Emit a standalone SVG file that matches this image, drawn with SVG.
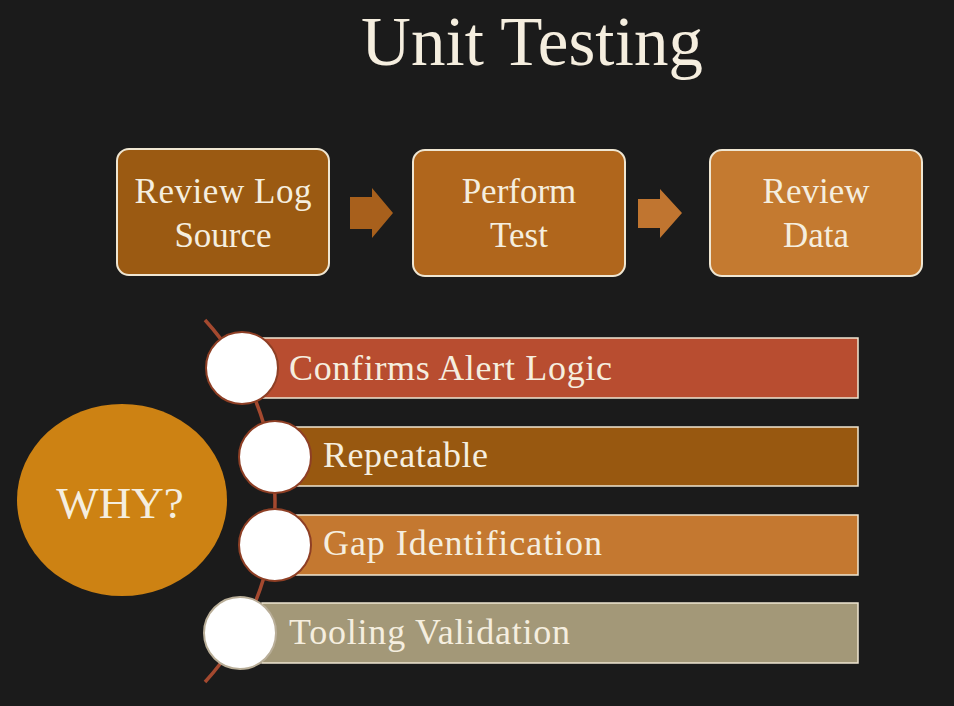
<svg xmlns="http://www.w3.org/2000/svg" width="954" height="706" viewBox="0 0 954 706">
<style>
  .t{font-family:"Liberation Serif","Times New Roman",serif;fill:#f5eedf}
  .box{stroke:#efe6d2;stroke-width:2}
  .bar{stroke:#efe6d2;stroke-width:1.5}
  .dot{fill:#ffffff;stroke:#8e3f25;stroke-width:2}
</style>
<rect x="0" y="0" width="954" height="706" fill="#1b1b1b"/>
<text class="t" x="532" y="65" font-size="69" text-anchor="middle" textLength="342" lengthAdjust="spacing">Unit Testing</text>

<g id="connectors">
  <path d="M350,197 H372 V188 L393,213 L372,238 V229 H350 Z" fill="#a8601c"/>
  <path d="M638,199 H660 V189 L682,213 L660,238 V228 H638 Z" fill="#c07530"/>
  <path d="M205,320 A269,269 0 0 1 205,682" fill="none" stroke="#a4492f" stroke-width="3.5"/>
</g>

<g id="box-review-log">
  <rect class="box" x="117" y="149" width="212" height="126" rx="12" fill="#9b5a12"/>
  <text class="t" x="223" y="203" font-size="35" text-anchor="middle" textLength="177" lengthAdjust="spacing">Review Log</text>
  <text class="t" x="223" y="247" font-size="35" text-anchor="middle">Source</text>
</g>
<g id="box-perform-test">
  <rect class="box" x="413" y="150" width="212" height="126" rx="12" fill="#b0661c"/>
  <text class="t" x="519" y="203" font-size="35" text-anchor="middle">Perform</text>
  <text class="t" x="519" y="247" font-size="35" text-anchor="middle">Test</text>
</g>
<g id="box-review-data">
  <rect class="box" x="710" y="150" width="212" height="126" rx="12" fill="#c47a30"/>
  <text class="t" x="816" y="203" font-size="35" text-anchor="middle">Review</text>
  <text class="t" x="816" y="247" font-size="35" text-anchor="middle">Data</text>
</g>

<g id="why">
  <ellipse cx="122" cy="500" rx="105" ry="96" fill="#cd8213"/>
  <text class="t" x="120" y="518" font-size="45" text-anchor="middle">WHY?</text>
</g>

<g id="item-confirms">
  <rect class="bar" x="262" y="338" width="596" height="60" fill="#b84d30"/>
  <circle class="dot" cx="242" cy="368" r="36"/>
  <text class="t" x="289" y="380" font-size="36" textLength="323" lengthAdjust="spacing">Confirms Alert Logic</text>
</g>
<g id="item-repeatable">
  <rect class="bar" x="296" y="427" width="562" height="59" fill="#985810"/>
  <circle class="dot" cx="275" cy="457" r="36"/>
  <text class="t" x="323" y="467" font-size="36" textLength="165" lengthAdjust="spacing">Repeatable</text>
</g>
<g id="item-gap">
  <rect class="bar" x="296" y="515" width="562" height="60" fill="#c47830"/>
  <circle class="dot" cx="275" cy="545" r="36"/>
  <text class="t" x="323" y="555" font-size="36" textLength="279" lengthAdjust="spacing">Gap Identification</text>
</g>
<g id="item-tooling">
  <rect class="bar" x="262" y="603" width="596" height="60" fill="#a39878"/>
  <circle class="dot" cx="240" cy="633" r="36" style="stroke:#b9ae98"/>
  <text class="t" x="289" y="644" font-size="36" textLength="281" lengthAdjust="spacing">Tooling Validation</text>
</g>
</svg>
